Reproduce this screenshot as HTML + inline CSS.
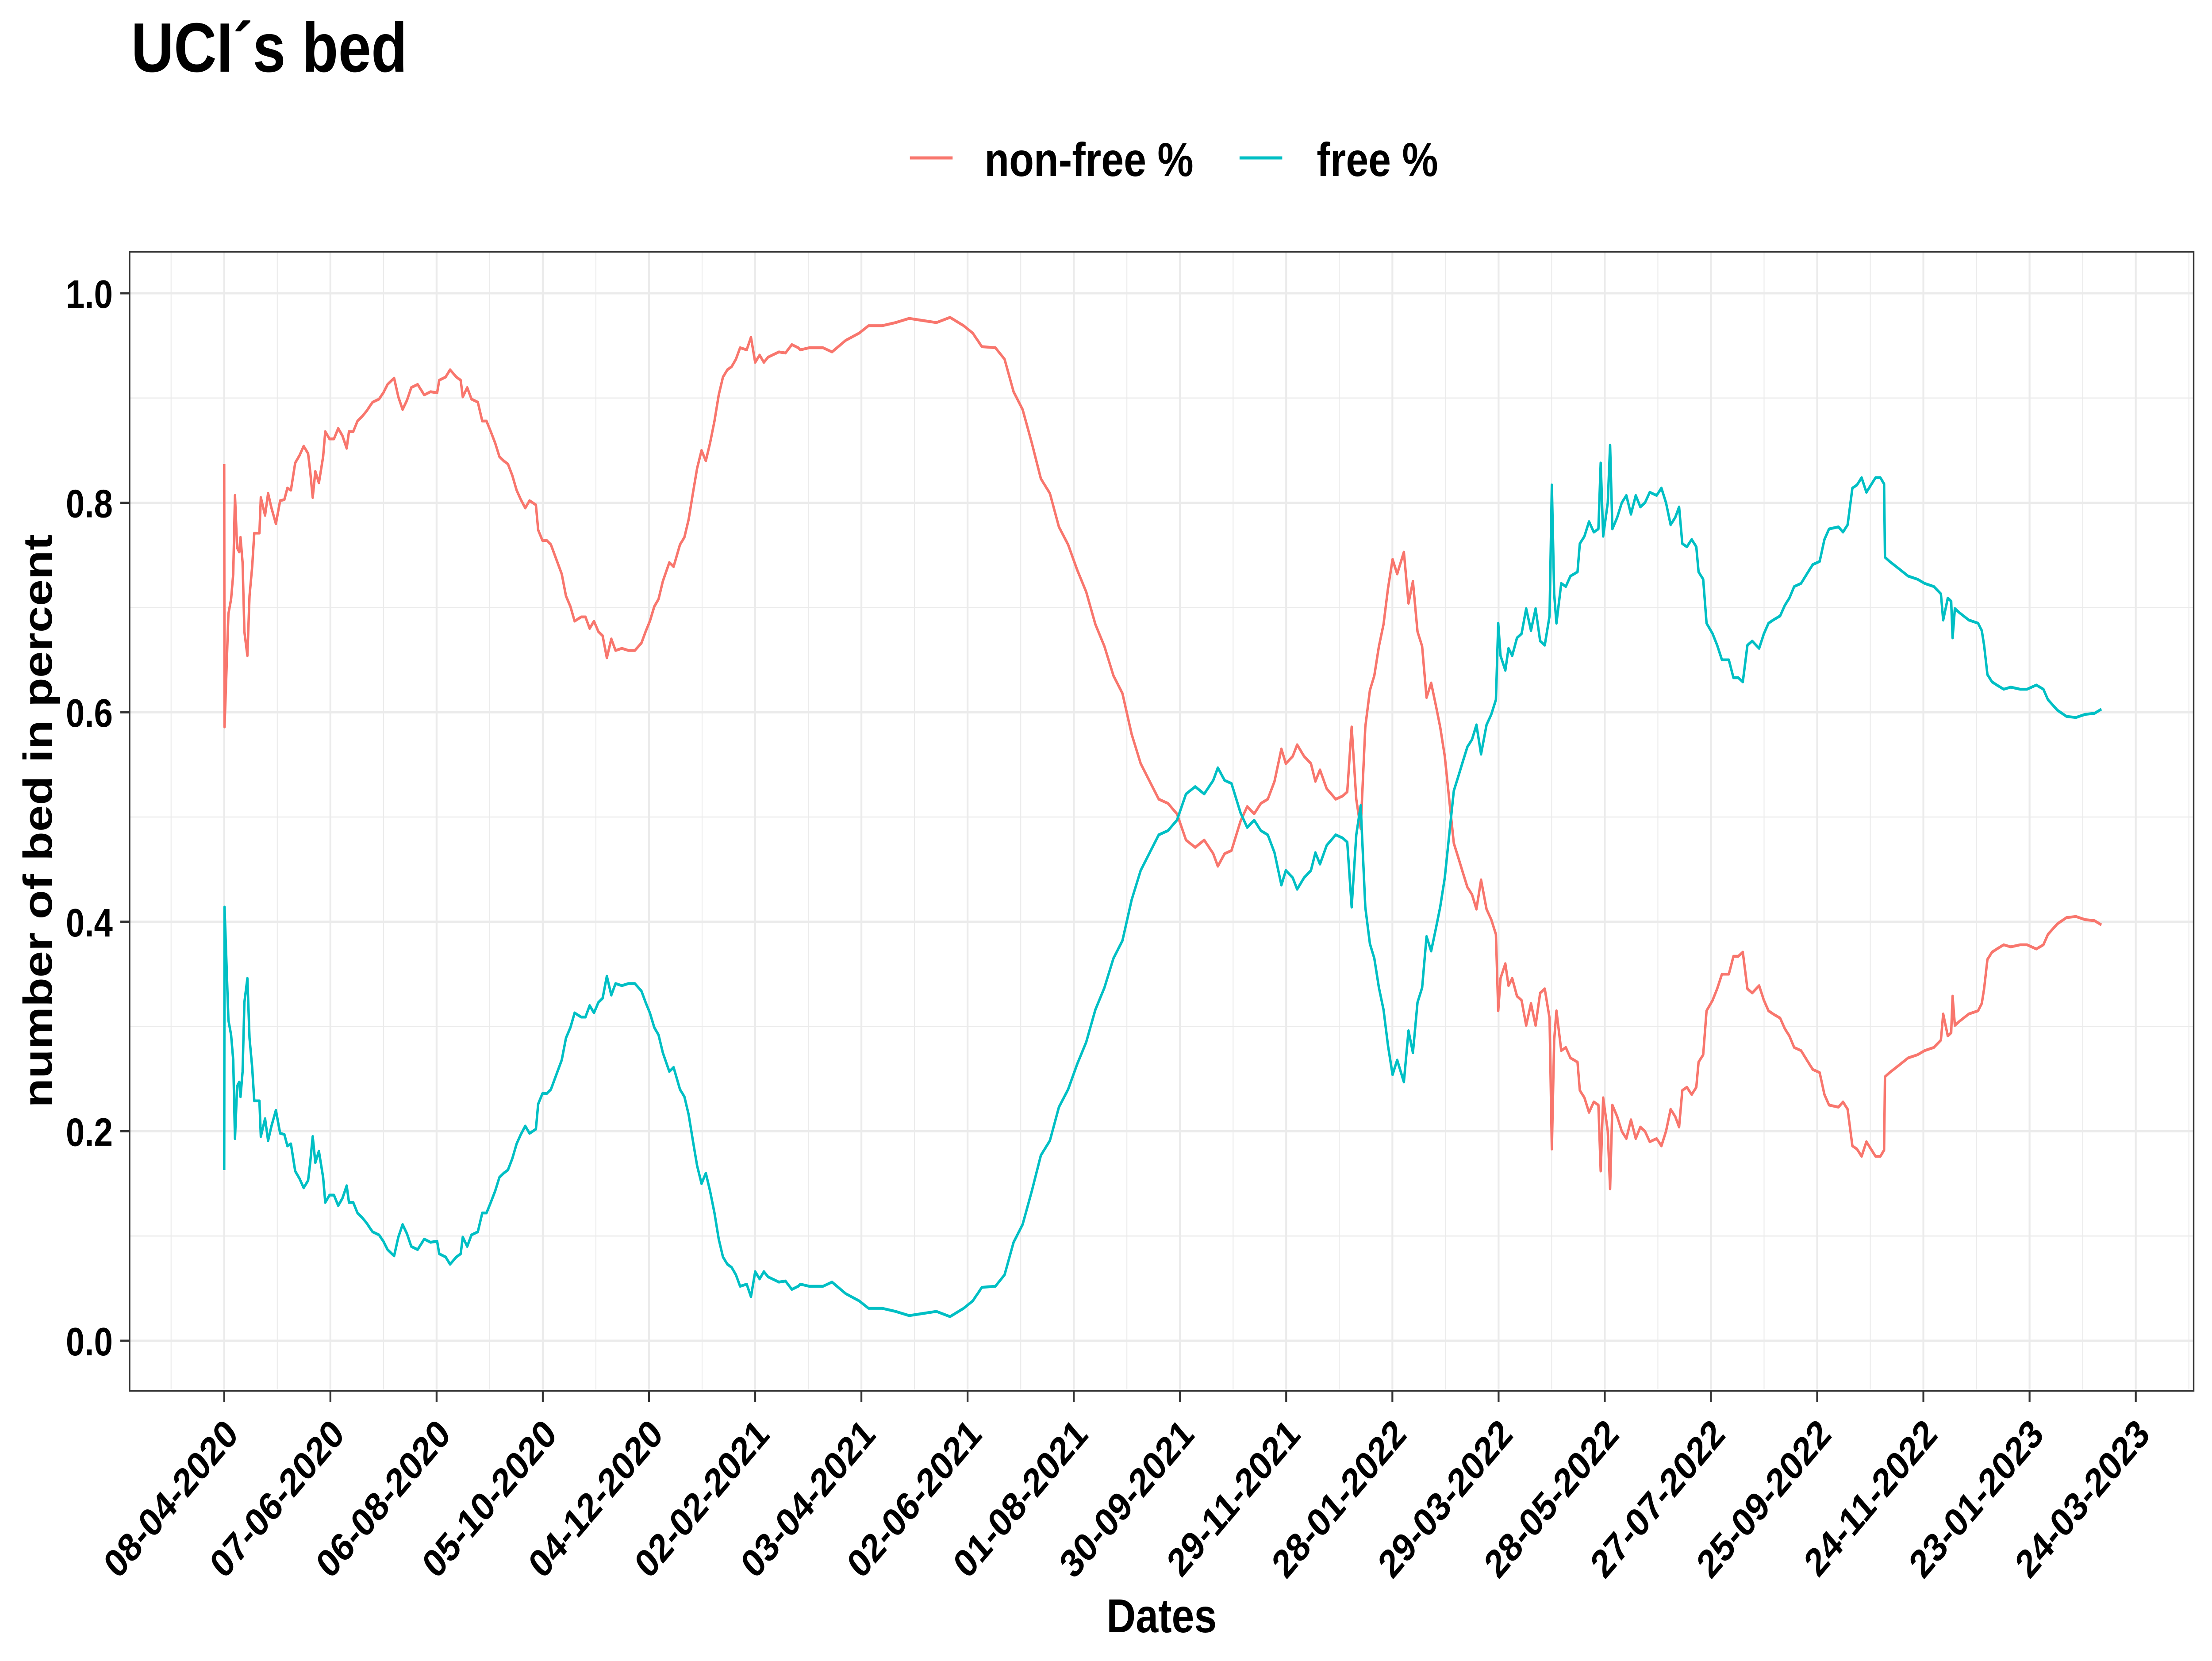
<!DOCTYPE html>
<html>
<head>
<meta charset="utf-8">
<style>
html,body{margin:0;padding:0;background:#fff;width:100%;height:100%;overflow:hidden;}
svg{display:block;width:100vw;height:100vh;font-family:"Liberation Sans",Arial,sans-serif;}
</style>
</head>
<body>
<svg id="chart" viewBox="0 0 5905 3755" preserveAspectRatio="none" xmlns="http://www.w3.org/2000/svg">
  <rect x="0" y="0" width="5905" height="3755" fill="#ffffff"/>
  <text x="350" y="162" font-size="158" font-weight="bold" fill="#000">UCI´s bed</text>
  <g>
    <line x1="2429" y1="357" x2="2543" y2="357" stroke="#F8766D" stroke-width="7"/>
    <text x="2628" y="398" font-size="108" font-weight="bold" fill="#000">non-free %</text>
    <line x1="3309" y1="357" x2="3423" y2="357" stroke="#00BFC4" stroke-width="7"/>
    <text x="3515" y="398" font-size="108" font-weight="bold" fill="#000">free %</text>
  </g>
  <g id="grid"></g>
  <g id="series"></g>
  <rect x="346" y="569" width="5510" height="2575" fill="none" stroke="#333" stroke-width="4"/>
  <g id="axes"></g>
  <text x="3101" y="3690" font-size="108" font-weight="bold" text-anchor="middle" fill="#000">Dates</text>
  <text transform="translate(138,1856) rotate(-90)" font-size="108" font-weight="bold" text-anchor="middle" fill="#000">number of bed in percent</text>
</svg>
<script>
const xTickLabels = ["08-04-2020","07-06-2020","06-08-2020","05-10-2020","04-12-2020","02-02-2021","03-04-2021","02-06-2021","01-08-2021","30-09-2021","29-11-2021","28-01-2022","29-03-2022","28-05-2022","27-07-2022","25-09-2022","24-11-2022","23-01-2023","24-03-2023"];
const xTickDays = [0,60,120,180,240,300,360,420,480,540,600,660,720,780,840,900,960,1020,1080];
const yTickValues = [0,0.2,0.4,0.6,0.8,1.0];
const yTickLabels = ["0.0","0.2","0.4","0.6","0.8","1.0"];
const days = [0,0.2,2.4,3.9,5.1,6.1,7.3,8.5,9.2,10.4,11.4,13.1,14.3,15.8,17.0,19.9,20.7,23.1,24.8,26.7,29.2,31.6,34.0,35.7,37.7,40.1,42.5,44.9,47.4,48.6,50.0,51.5,53.5,55.9,57.1,59.5,62.0,64.4,66.8,69.2,70.5,72.9,75.3,77.7,80.2,83.8,87.5,89.9,92.3,96.0,98.4,100.8,103.3,105.7,109.3,113.0,116.6,120.3,121.5,125.1,127.6,131.2,133.6,134.8,137.3,139.7,143.3,145.8,148.2,150.6,153.1,155.5,157.9,160.3,162.8,165.2,167.6,170.1,172.5,176.1,177.4,179.8,182.2,184.6,188.3,190.7,193.1,195.6,198.0,201.7,204.1,206.5,208.9,211.4,213.8,216.2,218.7,221.1,224.7,228.4,232.0,235.7,238.1,240.5,243.0,245.4,247.8,251.5,253.9,257.5,260.0,262.4,264.8,267.2,269.7,272.1,274.5,277.0,279.4,281.8,284.3,286.7,289.1,291.5,295.2,297.6,300.0,302.5,304.9,307.3,311.0,313.4,317.1,320.7,324.3,
325.5,330.6,338.3,343.4,351.1,358.8,364.0,371.6,379.3,387.0,394.7,402.4,410.1,417.8,422.9,428.1,435.7,440.9,446.0,451.1,456.3,461.4,466.5,471.6,476.8,481.9,487.0,492.2,497.3,502.4,507.5,512.7,517.8,522.9,528.0,533.2,538.3,543.4,548.6,553.7,558.8,561.4,565.2,569.1,574.2,578.0,581.9,585.7,589.6,593.4,597.3,599.8,603.7,606.2,610.1,614.0,616.5,619.1,622.9,628.0,631.9,634.5,637.0,639.6,642.1,644.7,647.3,649.8,652.4,655.0,657.5,660.1,662.7,666.5,669.1,671.6,674.2,676.8,679.3,681.9,684.5,687.0,689.6,692.1,694.7,697.3,699.8,702.4,705.0,707.5,710.1,
713.2,715.9,718.5,719.8,721.1,723.8,725.6,727.7,730.4,733.0,735.6,738.3,740.9,743.5,746.1,748.8,750.1,751.4,752.7,755.4,758.0,760.6,764.6,765.9,768.5,771.1,773.8,776.4,777.7,779.1,781.7,783.0,784.3,787.0,789.6,792.2,794.8,797.5,800.1,802.7,805.4,809.3,812.0,814.6,817.2,819.8,822.0,823.8,826.4,829.1,831.7,833.0,835.6,837.5,840.9,843.5,846.2,850.1,852.7,855.4,858.0,860.6,863.3,867.2,869.9,872.5,875.1,879.1,881.7,884.3,887.0,890.9,894.9,897.5,901.4,904.1,906.7,912.0,914.6,917.2,919.9,922.5,925.1,927.8,930.4,933.0,935.7,937.8,938.3,940.9,946.2,951.4,956.7,960.7,965.9,969.9,971.2,973.8,975.7,976.5,977.8,980.4,985.7,990.9,993.0,994.3,996.2,998.8,1001.5,1005.4,1009.4,1014.6,1018.6,1023.8,1027.8,1030.4,1035.7,1040.9,1046.2,1051.5,1056.7,1060.6];
const freePct = [0.163,0.414,0.306,0.292,0.268,0.193,0.243,0.247,0.233,0.257,0.323,0.346,0.289,0.261,0.229,0.229,0.195,0.212,0.191,0.205,0.220,0.198,0.197,0.186,0.188,0.162,0.155,0.146,0.153,0.170,0.195,0.170,0.181,0.156,0.132,0.139,0.139,0.129,0.136,0.148,0.132,0.132,0.122,0.118,0.113,0.104,0.101,0.095,0.087,0.081,0.099,0.111,0.102,0.090,0.087,0.097,0.094,0.095,0.083,0.080,0.073,0.080,0.083,0.099,0.090,0.101,0.104,0.122,0.122,0.132,0.143,0.156,0.160,0.163,0.174,0.188,0.197,0.205,0.198,0.202,0.226,0.236,0.236,0.240,0.257,0.268,0.289,0.299,0.313,0.309,0.309,0.320,0.313,0.323,0.327,0.348,0.330,0.341,0.339,0.341,0.341,0.334,0.323,0.313,0.299,0.292,0.275,0.257,0.261,0.240,0.233,0.216,0.191,0.167,0.150,0.160,0.143,0.122,0.097,0.080,0.073,0.070,0.063,0.052,0.054,0.042,0.066,0.059,0.066,0.061,0.058,0.056,0.057,0.049,0.052,
0.054,0.052,0.052,0.056,0.045,0.038,0.031,0.031,0.028,0.024,0.026,0.028,0.023,0.031,0.038,0.051,0.052,0.063,0.094,0.111,0.143,0.177,0.191,0.223,0.240,0.264,0.285,0.316,0.337,0.365,0.382,0.421,0.449,0.466,0.483,0.487,0.497,0.522,0.529,0.522,0.535,0.547,0.535,0.532,0.504,0.490,0.497,0.487,0.483,0.466,0.435,0.449,0.442,0.431,0.442,0.449,0.466,0.455,0.473,0.483,0.480,0.476,0.414,0.483,0.511,0.414,0.379,0.365,0.337,0.316,0.282,0.254,0.268,0.247,0.296,0.275,0.323,0.337,0.386,0.372,0.393,0.414,0.442,0.483,0.525,0.539,0.553,0.567,0.574,0.588,0.560,
0.588,0.598,0.612,0.685,0.654,0.640,0.661,0.654,0.671,0.675,0.699,0.678,0.699,0.668,0.664,0.692,0.817,0.713,0.685,0.723,0.720,0.730,0.734,0.761,0.768,0.782,0.772,0.775,0.838,0.768,0.800,0.855,0.775,0.786,0.800,0.807,0.789,0.807,0.796,0.800,0.810,0.807,0.814,0.800,0.779,0.786,0.796,0.761,0.758,0.765,0.758,0.734,0.727,0.685,0.675,0.664,0.650,0.650,0.633,0.633,0.629,0.664,0.668,0.661,0.675,0.685,0.688,0.692,0.702,0.709,0.720,0.723,0.734,0.741,0.744,0.765,0.775,0.777,0.772,0.779,0.814,0.817,0.824,0.810,0.817,0.824,0.824,0.818,0.748,0.744,0.737,0.730,0.727,0.723,0.720,0.713,0.688,0.709,0.706,0.671,0.699,0.695,0.688,0.685,0.678,0.664,0.636,0.629,0.626,0.622,0.624,0.622,0.622,0.626,0.622,0.612,0.602,0.596,0.595,0.598,0.599,0.603];
const nonFreePct = [0.837,0.586,0.694,0.708,0.732,0.807,0.757,0.753,0.767,0.743,0.677,0.654,0.711,0.739,0.771,0.771,0.805,0.788,0.809,0.795,0.780,0.802,0.803,0.814,0.812,0.838,0.845,0.854,0.847,0.830,0.805,0.830,0.819,0.844,0.868,0.861,0.861,0.871,0.864,0.852,0.868,0.868,0.878,0.882,0.887,0.896,0.899,0.905,0.913,0.919,0.901,0.889,0.898,0.910,0.913,0.903,0.906,0.905,0.917,0.920,0.927,0.920,0.917,0.901,0.910,0.899,0.896,0.878,0.878,0.868,0.857,0.844,0.840,0.837,0.826,0.812,0.803,0.795,0.802,0.798,0.774,0.764,0.764,0.760,0.743,0.732,0.711,0.701,0.687,0.691,0.691,0.680,0.687,0.677,0.673,0.652,0.670,0.659,0.661,0.659,0.659,0.666,0.677,0.687,0.701,0.708,0.725,0.743,0.739,0.760,0.767,0.784,0.809,0.833,0.850,0.840,0.857,0.878,0.903,0.920,0.927,0.930,0.937,0.948,0.946,0.958,0.934,0.941,0.934,0.939,0.942,0.944,0.943,0.951,0.948,
0.946,0.948,0.948,0.944,0.955,0.962,0.969,0.969,0.972,0.976,0.974,0.972,0.977,0.969,0.962,0.949,0.948,0.937,0.906,0.889,0.857,0.823,0.809,0.777,0.760,0.736,0.715,0.684,0.663,0.635,0.618,0.579,0.551,0.534,0.517,0.513,0.503,0.478,0.471,0.478,0.465,0.453,0.465,0.468,0.496,0.510,0.503,0.513,0.517,0.534,0.565,0.551,0.558,0.569,0.558,0.551,0.534,0.545,0.527,0.517,0.520,0.524,0.586,0.517,0.489,0.586,0.621,0.635,0.663,0.684,0.718,0.746,0.732,0.753,0.704,0.725,0.677,0.663,0.614,0.628,0.607,0.586,0.558,0.517,0.475,0.461,0.447,0.433,0.426,0.412,0.440,
0.412,0.402,0.388,0.315,0.346,0.360,0.339,0.346,0.329,0.325,0.301,0.322,0.301,0.332,0.336,0.308,0.183,0.287,0.315,0.277,0.280,0.270,0.266,0.239,0.232,0.218,0.228,0.225,0.162,0.232,0.200,0.145,0.225,0.214,0.200,0.193,0.211,0.193,0.204,0.200,0.190,0.193,0.186,0.200,0.221,0.214,0.204,0.239,0.242,0.235,0.242,0.266,0.273,0.315,0.325,0.336,0.350,0.350,0.367,0.367,0.371,0.336,0.332,0.339,0.325,0.315,0.312,0.308,0.298,0.291,0.280,0.277,0.266,0.259,0.256,0.235,0.225,0.223,0.228,0.221,0.186,0.183,0.176,0.190,0.183,0.176,0.176,0.182,0.252,0.256,0.263,0.270,0.273,0.277,0.280,0.287,0.312,0.291,0.294,0.329,0.301,0.305,0.312,0.315,0.322,0.336,0.364,0.371,0.374,0.378,0.376,0.378,0.378,0.374,0.378,0.388,0.398,0.404,0.405,0.402,0.401,0.397];

const NS = "http://www.w3.org/2000/svg";
const panel = {left:346, right:5856, top:569, bottom:3144};
const X0 = 598.5, PX_PER_DAY = 4.725;
const Y0 = 3031, PX_PER_UNIT = 2368;
function xScale(d){ return X0 + d * PX_PER_DAY; }
function yScale(v){ return Y0 - v * PX_PER_UNIT; }

const grid = document.getElementById('grid');
const axes = document.getElementById('axes');
const series = document.getElementById('series');

function mk(tag, attrs, parent){
  const el = document.createElementNS(NS, tag);
  for (const k in attrs) el.setAttribute(k, attrs[k]);
  parent.appendChild(el);
  return el;
}

for (let d = -30; d <= 1110; d += 60) {
  const x = xScale(d);
  if (x < panel.left || x > panel.right) continue;
  const l = mk('line', {x1:x, y1:panel.top, x2:x, y2:panel.bottom, stroke:'#ebebeb', 'stroke-width':2.5}, grid);
  
  
}
for (let v = 0.1; v < 1.0; v += 0.2) {
  const y = yScale(v);
  const l = mk('line', {x1:panel.left, y1:y, x2:panel.right, y2:y, stroke:'#ebebeb', 'stroke-width':2.5}, grid);
  
  
}
xTickDays.forEach((d, i) => {
  const x = xScale(d);
  const g = mk('line', {x1:x, y1:panel.top, x2:x, y2:panel.bottom, stroke:'#ebebeb', 'stroke-width':5}, grid);
  
  
  const t = mk('line', {x1:x, y1:panel.bottom, x2:x, y2:panel.bottom + 26, stroke:'#333', 'stroke-width':5}, axes);
  
  
  const tx = mk('text', {transform:'translate(' + (x + 42) + ',3247) rotate(-45)', 'font-size':90, 'font-weight':'bold', 'text-anchor':'end', fill:'#000'}, axes);
  tx.textContent = xTickLabels[i];
  
  
});
yTickValues.forEach((v, i) => {
  const y = yScale(v);
  const g = mk('line', {x1:panel.left, y1:y, x2:panel.right, y2:y, stroke:'#ebebeb', 'stroke-width':5}, grid);
  
  
  const t = mk('line', {x1:panel.left - 25, y1:y, x2:panel.left, y2:y, stroke:'#333', 'stroke-width':5}, axes);
  
  
  const tx = mk('text', {x:301, y:y + 33, 'font-size':90, 'font-weight':'bold', 'text-anchor':'end', fill:'#000'}, axes);
  tx.textContent = yTickLabels[i];
  
  
});

function linePath(vals){
  return vals.map((v, i) => (i ? 'L' : 'M') + xScale(days[i]).toFixed(1) + ',' + yScale(v).toFixed(1)).join(' ');
}
const red = mk('path', {d:linePath(nonFreePct), fill:'none', stroke:'#F8766D', 'stroke-width':6.5, 'stroke-linejoin':'round'}, series);


const teal = mk('path', {d:linePath(freePct), fill:'none', stroke:'#00BFC4', 'stroke-width':6.5, 'stroke-linejoin':'round'}, series);


</script>
</body>
</html>
